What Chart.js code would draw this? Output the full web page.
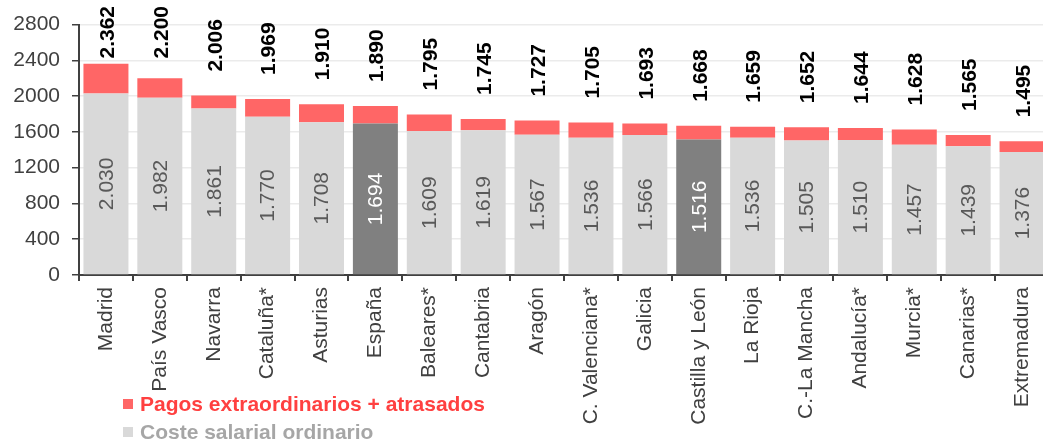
<!DOCTYPE html>
<html><head><meta charset="utf-8">
<script src="https://cdn.jsdelivr.net/npm/chart.js@4"></script>
<style>
html,body{margin:0;padding:0;background:#fff;overflow:hidden;width:1043px;height:444px}
#wrap{position:relative;width:1043px;height:444px;overflow:hidden}
canvas{position:absolute;left:0;top:0}
.leg{position:absolute;left:123px;font:bold 21px "Liberation Sans",Arial,sans-serif;line-height:24px;display:flex;align-items:center;white-space:nowrap}
.leg .sw{width:10px;height:10px;display:inline-block;margin-right:7px}
</style></head>
<body><div id="wrap"><canvas id="c" style="width:1060px;height:444px"></canvas>
<div class="leg" style="top:392px;color:#ff4040"><span class="sw" style="background:#ff6666"></span>Pagos extraordinarios + atrasados</div>
<div class="leg" style="top:420px;color:#a6a6a6"><span class="sw" style="background:#d9d9d9"></span>Coste salarial ordinario</div>
</div>
<script>
const categories = ['Madrid','País Vasco','Navarra','Cataluña*','Asturias','España','Baleares*','Cantabria','Aragón','C. Valenciana*','Galicia','Castilla y León','La Rioja','C.-La Mancha','Andalucía*','Murcia*','Canarias*','Extremadura'];
const costeOrdinario = [2030,1982,1861,1770,1708,1694,1609,1619,1567,1536,1566,1516,1536,1505,1510,1457,1439,1376];
const pagosExtra = [332,218,145,199,202,196,186,126,160,169,127,152,123,147,134,171,126,119];
const totales = [2362,2200,2006,1969,1910,1890,1795,1745,1727,1705,1693,1668,1659,1652,1644,1628,1565,1495];
const highlighted = ['España','Castilla y León'];
const yTicks = [0,400,800,1200,1600,2000,2400,2800];

const FONT = '"Liberation Sans", Arial, sans-serif';
const FS = 21;
const fmt = v => Math.floor(v/1000) + '.' + String(v % 1000).padStart(3,'0');
const isHi = i => highlighted.includes(categories[i]);

const labelPlugin = {
  id: 'labels',
  afterDatasetsDraw(chart) {
    const ctx = chart.ctx;
    const m0 = chart.getDatasetMeta(0), m1 = chart.getDatasetMeta(1);
    ctx.save();
    m0.data.forEach((bar, i) => {
      const cy = (bar.y + bar.base) / 2;
      ctx.save();
      ctx.translate(bar.x, cy);
      ctx.rotate(-Math.PI/2);
      ctx.font = FS + 'px ' + FONT;
      ctx.fillStyle = isHi(i) ? '#ffffff' : '#595959';
      ctx.textAlign = 'center';
      ctx.textBaseline = 'middle';
      ctx.fillText(fmt(costeOrdinario[i]), 0, 1);
      ctx.restore();
      const top = m1.data[i].y;
      ctx.save();
      ctx.font = 'bold ' + FS + 'px ' + FONT;
      const w = ctx.measureText(fmt(totales[i])).width;
      const start = Math.max(top - 24, 6 + w);
      ctx.translate(bar.x + 1, start);
      ctx.rotate(-Math.PI/2);
      ctx.fillStyle = '#000000';
      ctx.textAlign = 'left';
      ctx.textBaseline = 'middle';
      ctx.fillText(fmt(totales[i]), 0, 1);
      ctx.restore();
    });
    ctx.restore();
  }
};

new Chart(document.getElementById('c'), {
  type: 'bar',
  data: {
    labels: categories,
    datasets: [
      { label: 'Coste salarial ordinario', data: costeOrdinario,
        backgroundColor: ctx => isHi(ctx.dataIndex) ? '#808080' : '#d9d9d9' },
      { label: 'Pagos extraordinarios + atrasados', data: pagosExtra,
        backgroundColor: '#ff6666' }
    ]
  },
  options: {
    responsive: false,
    animation: false,
    devicePixelRatio: 1,
    layout: { padding: { top: 23, right: 11, left: 0, bottom: 0 } },
    barPercentage: 0.835,
    categoryPercentage: 1,
    plugins: { legend: { display: false }, tooltip: { enabled: false } },
    scales: {
      x: {
        stacked: true,
        afterFit: s => { s.height = 169; },
        grid: { display: true, drawOnChartArea: false, tickLength: 6, tickColor: '#404040', offset: true, lineWidth: 2 },
        border: { color: '#404040', width: 2 },
        ticks: { maxRotation: 90, minRotation: 90, autoSkip: false, padding: 6, color: '#404040', font: { family: FONT, size: FS } }
      },
      y: {
        stacked: true,
        min: 0, max: 2800,
        afterFit: s => { s.width = 79; },
        afterBuildTicks: s => { s.ticks = yTicks.map(v => ({ value: v })); },
        grid: { color: '#ebebeb', lineWidth: 1.5, tickLength: 7, tickColor: '#404040' },
        border: { color: '#404040', width: 2 },
        ticks: { padding: 12, color: '#404040', font: { family: FONT, size: FS }, callback: v => String(v) }
      }
    }
  },
  plugins: [labelPlugin]
});
</script>
</body></html>
